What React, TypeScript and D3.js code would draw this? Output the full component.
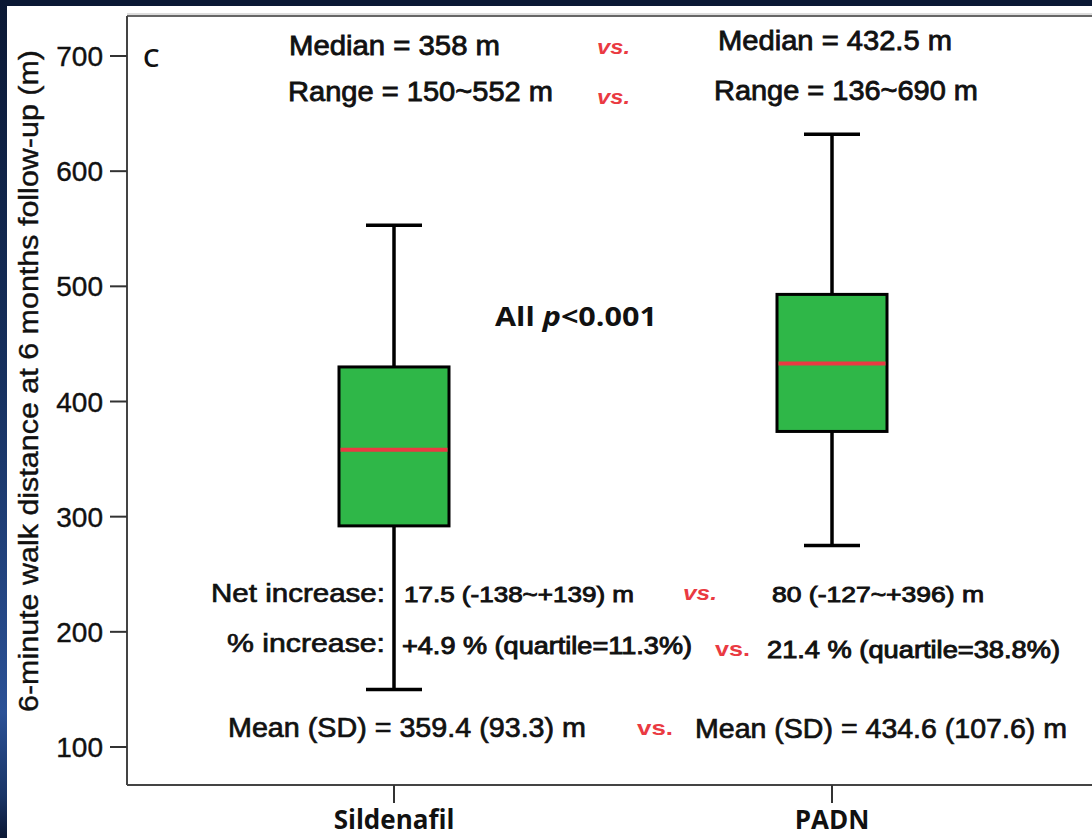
import React from "react";
import * as d3 from "d3";

const categories = ["Sildenafil", "PADN"];
const whiskerLow = [150, 275];
const q1 = [292, 374];
const median = [358, 433];
const q3 = [430, 493];
const whiskerHigh = [553, 632];
const yTicks = [100, 200, 300, 400, 500, 600, 700];

const W = 1092;
const H = 838;
const ARIAL = "'Liberation Sans', Arial, sans-serif";
const OPEN = "'Open Sans', 'Noto Sans', sans-serif";
const RED = "#ea3a42";

type T = { t: string; x: number; y: number; len: number; size: number; weight?: string; italic?: boolean; fill?: string; font?: string; stroke?: number };

const texts: T[] = [
  { t: "Median = 358 m", x: 289, y: 55, len: 211, size: 27, stroke: 0.8 },
  { t: "vs.", x: 597, y: 54, len: 33, size: 21, weight: "bold", italic: true, fill: RED },
  { t: "Median = 432.5 m", x: 718, y: 50, len: 234, size: 27, stroke: 0.8 },
  { t: "Range = 150~552 m", x: 288, y: 101, len: 265, size: 27, stroke: 0.8 },
  { t: "vs.", x: 597, y: 104, len: 33, size: 21, weight: "bold", italic: true, fill: RED },
  { t: "Range = 136~690 m", x: 714, y: 100, len: 264, size: 27, stroke: 0.8 },
  { t: "Net increase:", x: 211, y: 602, len: 174, size: 26, stroke: 0.7 },
  { t: "17.5 (-138~+139) m", x: 404, y: 602, len: 230, size: 22, stroke: 0.9 },
  { t: "vs.", x: 683, y: 600, len: 34, size: 21, weight: "bold", italic: true, fill: RED },
  { t: "80 (-127~+396) m", x: 772, y: 602, len: 212, size: 22, stroke: 0.9 },
  { t: "% increase:", x: 227, y: 652, len: 158, size: 26, stroke: 0.7 },
  { t: "+4.9 % (quartile=11.3%)", x: 402, y: 654, len: 290, size: 23, stroke: 0.9 },
  { t: "vs.", x: 715, y: 656, len: 35, size: 21, weight: "bold", fill: RED },
  { t: "21.4 % (quartile=38.8%)", x: 767, y: 658, len: 293, size: 23, stroke: 0.9 },
  { t: "Mean (SD) = 359.4 (93.3) m", x: 228, y: 737, len: 358, size: 27, stroke: 0.7 },
  { t: "vs.", x: 637, y: 735, len: 36, size: 21, weight: "bold", fill: RED },
  { t: "Mean (SD) = 434.6 (107.6) m", x: 695, y: 738, len: 372, size: 27, stroke: 0.7 },
];

export default function App() {
  const x = d3.scalePoint<string>().domain(categories).range([394, 832]);
  const y = d3.scaleLinear().domain([100, 700]).range([747, 56]);
  const boxW = 110;
  const capW = 56;
  const frameLeft = 127;
  const frameTop = 16;
  const frameBottom = 785;

  return (
    <svg width={W} height={H} style={{ position: "absolute", left: 0, top: 0, background: "#fff" }}>
      <defs>
        <linearGradient id="lb" x1="0" y1="0" x2="0" y2="1">
          <stop offset="0" stopColor="#0b1834" />
          <stop offset="0.45" stopColor="#16305e" />
          <stop offset="0.85" stopColor="#2b5196" />
          <stop offset="0.95" stopColor="#1a3566" />
          <stop offset="1" stopColor="#0b1834" />
        </linearGradient>
      </defs>
      <rect x={0} y={0} width={W} height={H} fill="#fff" />
      <rect x={0} y={0} width={W} height={6} fill="#0b1834" />
      <rect x={0} y={0} width={7} height={H} fill="url(#lb)" />

      {/* frame */}
      <line x1={frameLeft} x2={W} y1={frameTop - 2} y2={frameTop - 2} stroke="#bbb" strokeWidth={1} />
      <line x1={frameLeft} x2={W} y1={frameTop} y2={frameTop} stroke="#666" strokeWidth={2} />
      <line x1={frameLeft} x2={W} y1={frameBottom} y2={frameBottom} stroke="#444" strokeWidth={2} />
      <line x1={frameLeft} x2={frameLeft} y1={frameTop} y2={frameBottom} stroke="#444" strokeWidth={2} />

      {/* y ticks */}
      {yTicks.map((t) => (
        <g key={t}>
          <line x1={frameLeft - 17} x2={frameLeft} y1={y(t)} y2={y(t)} stroke="#333" strokeWidth={2} />
          <text x={103} y={y(t) + 10} textAnchor="end" fontFamily={ARIAL} fontSize={28} fill="#111" stroke="#111" strokeWidth={0.4}>
            {t}
          </text>
        </g>
      ))}

      {/* x ticks */}
      {categories.map((c) => (
        <g key={c}>
          <line x1={x(c)!} x2={x(c)!} y1={frameBottom} y2={frameBottom + 18} stroke="#333" strokeWidth={2} />
          <text x={x(c)!} y={829} textAnchor="middle" fontFamily={OPEN} fontWeight="bold" fontSize={26} fill="#111">
            {c}
          </text>
        </g>
      ))}

      {/* y-axis title */}
      <text
        transform={`translate(38, 381) rotate(-90)`}
        textAnchor="middle"
        fontFamily={ARIAL}
        fontSize={27}
        fill="#111"
        stroke="#111"
        strokeWidth={0.4}
        textLength={662}
        lengthAdjust="spacingAndGlyphs"
      >
        6-minute walk distance at 6 months follow-up (m)
      </text>

      {/* boxes */}
      {categories.map((c, i) => {
        const cx = x(c)!;
        return (
          <g key={c}>
            <line x1={cx} x2={cx} y1={y(whiskerHigh[i])} y2={y(q3[i])} stroke="#000" strokeWidth={3.5} />
            <line x1={cx} x2={cx} y1={y(q1[i])} y2={y(whiskerLow[i])} stroke="#000" strokeWidth={3.5} />
            <line x1={cx - capW / 2} x2={cx + capW / 2} y1={y(whiskerHigh[i])} y2={y(whiskerHigh[i])} stroke="#000" strokeWidth={3.5} />
            <line x1={cx - capW / 2} x2={cx + capW / 2} y1={y(whiskerLow[i])} y2={y(whiskerLow[i])} stroke="#000" strokeWidth={3.5} />
            <rect x={cx - boxW / 2} y={y(q3[i])} width={boxW} height={y(q1[i]) - y(q3[i])} fill="#2fb748" stroke="#000" strokeWidth={3} />
            <line x1={cx - boxW / 2 + 1.5} x2={cx + boxW / 2 - 1.5} y1={y(median[i])} y2={y(median[i])} stroke={RED} strokeWidth={4} />
          </g>
        );
      })}

      {/* panel letter */}
      <text x={143} y={67} fontFamily={OPEN} fontWeight={600} fontSize={26} fill="#111">C</text>

      {/* p-value */}
      <text x={495} y={326} fontFamily={OPEN} fontWeight="bold" fontSize={27} fill="#111" textLength={162} lengthAdjust="spacingAndGlyphs">
        All <tspan fontStyle="italic">p</tspan>{"<0.001"}
      </text>

      {texts.map((d, i) => (
        <text
          key={i}
          x={d.x}
          y={d.y}
          fontFamily={d.font || ARIAL}
          fontSize={d.size}
          fontWeight={d.weight || "normal"}
          fontStyle={d.italic ? "italic" : "normal"}
          fill={d.fill || "#111"}
          stroke={d.stroke ? d.fill || "#111" : "none"}
          strokeWidth={d.stroke || 0}
          textLength={d.len}
          lengthAdjust="spacingAndGlyphs"
        >
          {d.t}
        </text>
      ))}
    </svg>
  );
}
